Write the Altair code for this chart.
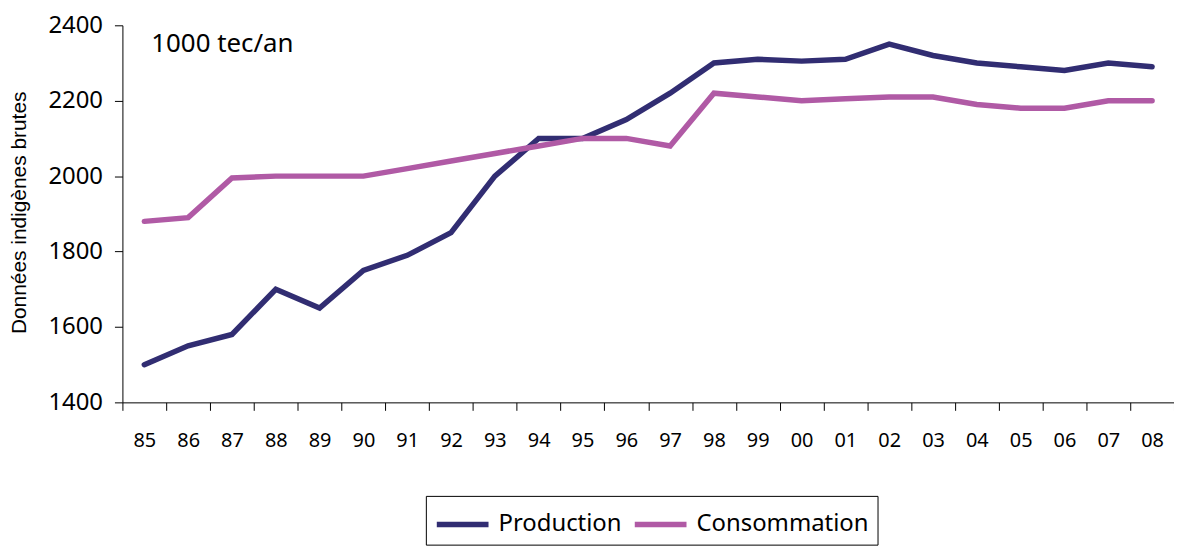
import altair as alt
import pandas as pd

years = ["85", "86", "87", "88", "89", "90", "91", "92", "93", "94", "95", "96",
         "97", "98", "99", "00", "01", "02", "03", "04", "05", "06", "07", "08"]
production = [1500, 1550, 1580, 1700, 1650, 1750, 1790, 1850, 2000, 2100, 2100, 2150,
              2220, 2300, 2310, 2305, 2310, 2350, 2320, 2300, 2290, 2280, 2300, 2290]
consommation = [1880, 1890, 1995, 2000, 2000, 2000, 2020, 2040, 2060, 2080, 2100, 2100,
                2080, 2220, 2210, 2200, 2205, 2210, 2210, 2190, 2180, 2180, 2200, 2200]
series_names = ["Production", "Consommation"]
series_colors = ["#312d72", "#b05aa5"]
y_ticks = [1400, 1600, 1800, 2000, 2200, 2400]

rows = []
for i, yr in enumerate(years):
    rows.append({"year": yr, "serie": series_names[0], "value": production[i], "order": i})
    rows.append({"year": yr, "serie": series_names[1], "value": consommation[i], "order": i})
df = pd.DataFrame(rows)

FONT = "Noto Sans"

lines = alt.Chart(df).mark_line(strokeWidth=5.5, strokeCap="round", strokeJoin="miter").encode(
    x=alt.X("year:N", sort=years,
            scale=alt.Scale(type="band", paddingInner=0, paddingOuter=0),
            axis=alt.Axis(title=None, labelAngle=0, tickBand="extent", tickSize=8,
                          labelPadding=20, labelFontSize=20, labelFont=FONT,
                          labelColor="black", domainColor="black", tickColor="black",
                          grid=False)),
    y=alt.Y("value:Q",
            scale=alt.Scale(domain=[1400, 2400], nice=False, zero=False),
            axis=alt.Axis(values=y_ticks, format="d", tickSize=8, labelPadding=12,
                          labelFontSize=24, labelFont=FONT, labelColor="black",
                          domainColor="black", tickColor="black", grid=False,
                          title="Données indigènes brutes", titleFont="Liberation Sans",
                          titleFontSize=21, titleFontWeight="normal", titleColor="black",
                          titleAngle=270, titleX=-103, titleY=188, titleAlign="center",
                          titleBaseline="middle")),
    color=alt.Color("serie:N",
                    scale=alt.Scale(domain=series_names, range=series_colors),
                    sort=series_names,
                    legend=alt.Legend(title=None, orient="none", legendX=305, legendY=473,
                                      direction="horizontal",
                                      symbolType="M-1,0L1.971,0",
                                      symbolStrokeWidth=5.5, symbolSize=1225,
                                      labelFontSize=24, labelFont=FONT, labelColor="black",
                                      labelLimit=400, labelOffset=24, columnPadding=2,
                                      padding=8, strokeColor="black", fillColor="white")),
    order="order:Q",
)

unit_text = alt.Chart(pd.DataFrame({"t": ["1000 tec/an"]})).mark_text(
    align="left", baseline="middle", fontSize=26, font=FONT, color="black"
).encode(x=alt.value(29), y=alt.value(19), text="t:N")

chart = alt.layer(lines, unit_text).properties(
    width=1057, height=379,
    autosize=alt.AutoSizeParams(type="none"),
    padding={"left": 115, "top": 16, "right": 0, "bottom": 146},
).configure_view(stroke=None)

chart.save("out.html", embed_options={"renderer": "svg", "actions": False})
